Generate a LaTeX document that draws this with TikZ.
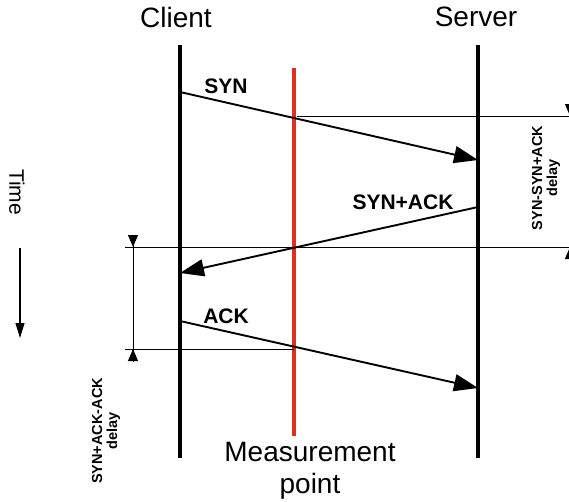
\documentclass[tikz,border=0pt]{standalone}
\usepackage{fontspec}
\setmainfont{Liberation Sans}
\usetikzlibrary{arrows.meta}
\definecolor{mred}{HTML}{E0301E}
\tikzset{
  life/.style={line width=4.5pt},
  msg/.style={line width=1.9pt,-{Triangle[length=24pt,width=17pt]}},
  thin/.style={line width=0.9pt},
  big/.style={font=\fontsize{28}{31}\selectfont},
  lab/.style={font=\bfseries\fontsize{21}{24}\selectfont},
  small/.style={font=\bfseries\fontsize{14.5}{15}\selectfont,align=center},
  dimtip/.style={-{Triangle[length=12pt,width=10pt]}},
}
\begin{document}
\begin{tikzpicture}[x=1pt,y=-1pt]
\useasboundingbox (0,0) rectangle (569,501);
\clip (0,0) rectangle (569,501);
% lifelines
\coordinate (ct) at (180,45); \coordinate (cb) at (180,458);
\coordinate (st) at (478,45); \coordinate (sb) at (478,458);
\coordinate (mt) at (294,68); \coordinate (mb) at (294,436);
\draw[life] (ct) -- (cb);
\draw[life] (st) -- (sb);
\draw[line width=4pt,mred] (mt) -- (mb);
\node[big] (client) at (176,17) {Client};
\node[big] (server) at (476,17) {Server};
\node[big,align=center,font=\fontsize{28}{32}\selectfont] (meas) at (310,471) {Measurement\\point};
% measurement horizontal lines
\coordinate (h1a) at (297,116); \coordinate (h1b) at (575,116);
\coordinate (h2a) at (125,247); \coordinate (h2b) at (575,247);
\coordinate (h3a) at (125,349); \coordinate (h3b) at (294,349);
\draw[thin] (h1a) -- (h1b);
\draw[thin] (h2a) -- (h2b);
\draw[thin] (h3a) -- (h3b);
% messages
\coordinate (syn1) at (180,92); \coordinate (syn2) at (478,160);
\coordinate (sa1) at (478,207); \coordinate (sa2) at (180,273);
\coordinate (ack1) at (180,321); \coordinate (ack2) at (478,388);
\draw[msg] (syn1) -- (syn2);
\draw[msg] (sa1) -- (sa2);
\draw[msg] (ack1) -- (ack2);
\node[lab] (synl) at (226,86) {SYN};
\node[lab] (sal) at (403,202) {SYN+ACK};
\node[lab] (ackl) at (226,316) {ACK};
% right delay
\coordinate (r1) at (570,100); \coordinate (r1t) at (570,116);
\coordinate (r2) at (570,263); \coordinate (r2t) at (570,247);
\draw[thin] (r1) -- (r2);
\draw[thin,dimtip] (r1) -- (r1t);
\draw[thin,dimtip] (r2) -- (r2t);
\node[small,rotate=90] (rdel) at (546,178) {SYN-SYN+ACK\\delay};
% left delay
\coordinate (l1) at (133,235); \coordinate (l1t) at (133,247);
\coordinate (l2) at (133,362); \coordinate (l2t) at (133,349);
\draw[thin] (l1) -- (l2);
\draw[thin,dimtip] (l1) -- (l1t);
\draw[thin,dimtip] (l2) -- (l2t);
\node[small,rotate=90] (ldel) at (106,431) {SYN+ACK-ACK\\delay};
% time
\node[font=\fontsize{21}{24}\selectfont,rotate=-90] (time) at (17,192) {Time};
\coordinate (t1) at (20,248); \coordinate (t2) at (20,338);
\draw[line width=1.2pt,-{Triangle[length=15pt,width=9pt]}] (t1) -- (t2);
\end{tikzpicture}
\end{document}
